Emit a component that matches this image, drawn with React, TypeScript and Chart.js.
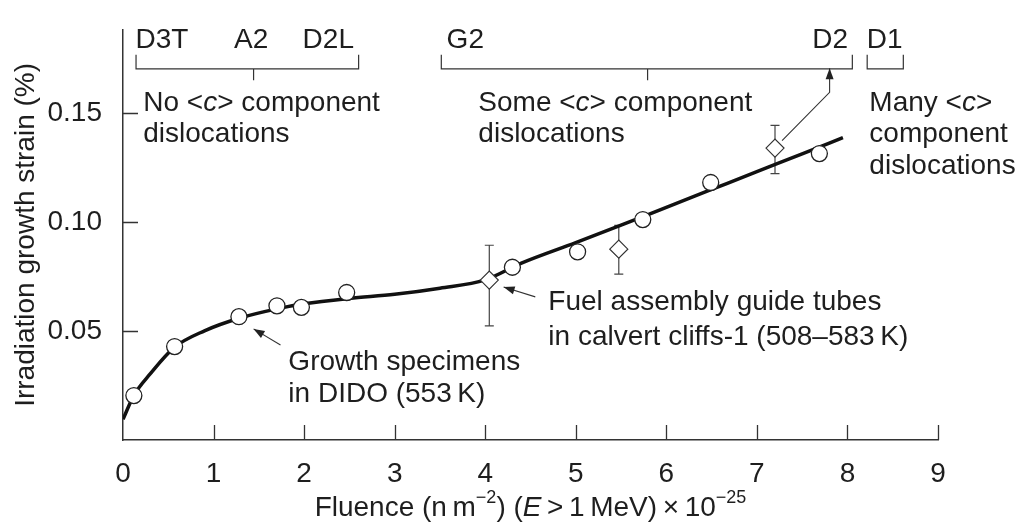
import React, { useEffect, useRef } from "react";
import { Chart, registerables } from "chart.js";

Chart.register(...registerables);

// ---------- data ----------
const xTicks = [0, 1, 2, 3, 4, 5, 6, 7, 8, 9];
const yTicks = [0.05, 0.1, 0.15];
const yTickLabels = ["0.05", "0.10", "0.15"];

// fitted growth curve
const curveX = [0, 0.12, 0.3, 0.57, 0.9, 1.3, 1.7, 2.0, 2.5, 3.0, 3.5, 4.0, 4.4, 5.0, 5.5, 6.0, 6.5, 7.0, 7.5, 7.95];
const curveY = [0.0095, 0.0205, 0.0303, 0.0426, 0.0501, 0.0561, 0.0602, 0.0625, 0.065, 0.0669, 0.0697, 0.0735, 0.0812, 0.0906, 0.0986, 0.1068, 0.115, 0.1232, 0.1313, 0.1388];

// growth specimens in DIDO (circles)
const circleX = [0.12, 0.57, 1.28, 1.7, 1.97, 2.47, 4.3, 5.02, 5.74, 6.49, 7.69];
const circleY = [0.0204, 0.0429, 0.0566, 0.0616, 0.0609, 0.0677, 0.0793, 0.0864, 0.1012, 0.1182, 0.1315];

// fuel assembly guide tubes (diamonds with error bars)
const diamondX = [4.045, 5.475, 7.2];
const diamondY = [0.0734, 0.0876, 0.134];
const diamondLow = [0.0524, 0.0761, 0.1223];
const diamondHigh = [0.0894, 0.0985, 0.1444];

const X_TITLE = "Fluence (n m−2) (E > 1 MeV) × 10−25";
const Y_TITLE = "Irradiation growth strain (%)";

// ---------- styles ----------
const FONT = "'Liberation Sans', Arial, Helvetica, sans-serif";
const SIZE = 28;
const SUP = 18;
const TEXT = "#1e1e1e";
const LINE = "#333";

type Part = { t: string; i?: boolean; sup?: boolean };

function drawRich(ctx: CanvasRenderingContext2D, parts: Part[], x: number, y: number, align: "left" | "center") {
  const fontFor = (p: Part) => `${p.i ? "italic " : ""}${p.sup ? SUP : SIZE}px ${FONT}`;
  let total = 0;
  const widths: number[] = [];
  for (const p of parts) {
    ctx.font = fontFor(p);
    const w = ctx.measureText(p.t).width;
    widths.push(w);
    total += w;
  }
  let cx = align === "center" ? x - total / 2 : x;
  const base = y + SIZE * 0.358;
  ctx.textAlign = "left";
  ctx.textBaseline = "alphabetic";
  ctx.fillStyle = TEXT;
  parts.forEach((p, k) => {
    ctx.font = fontFor(p);
    ctx.fillText(p.t, cx, p.sup ? base - SIZE * 0.45 : base);
    cx += widths[k];
  });
}

function arrowHead(ctx: CanvasRenderingContext2D, fx: number, fy: number, tx: number, ty: number) {
  const a = Math.atan2(ty - fy, tx - fx);
  const L = 11;
  const W = 4;
  ctx.beginPath();
  ctx.moveTo(tx, ty);
  ctx.lineTo(tx - L * Math.cos(a) + W * Math.sin(a), ty - L * Math.sin(a) - W * Math.cos(a));
  ctx.lineTo(tx - L * Math.cos(a) - W * Math.sin(a), ty - L * Math.sin(a) + W * Math.cos(a));
  ctx.closePath();
  ctx.fill();
}

const errorBarPlugin = {
  id: "errorBars",
  beforeDatasetsDraw(chart: any) {
    const { ctx } = chart;
    const xs = chart.scales.x;
    const ys = chart.scales.y;
    ctx.save();
    ctx.strokeStyle = "#444";
    ctx.lineWidth = 1.2;
    diamondX.forEach((xv, k) => {
      const px = xs.getPixelForValue(xv);
      const lo = ys.getPixelForValue(diamondLow[k]);
      const hi = ys.getPixelForValue(diamondHigh[k]);
      ctx.beginPath();
      ctx.moveTo(px, lo);
      ctx.lineTo(px, hi);
      ctx.moveTo(px - 4.5, lo);
      ctx.lineTo(px + 4.5, lo);
      ctx.moveTo(px - 4.5, hi);
      ctx.lineTo(px + 4.5, hi);
      ctx.stroke();
    });
    ctx.restore();
  },
};

const annotationPlugin = {
  id: "annotations",
  afterDraw(chart: any) {
    const { ctx, chartArea } = chart;
    const xs = chart.scales.x;
    const ys = chart.scales.y;
    const X = (v: number) => xs.getPixelForValue(v);
    const Y = (v: number) => ys.getPixelForValue(v);
    ctx.save();

    // inward tick marks
    ctx.strokeStyle = LINE;
    ctx.lineWidth = 1.3;
    ctx.beginPath();
    xTicks.forEach((v) => {
      if (v === 0) return;
      const px = Math.round(X(v)) + 0.5;
      ctx.moveTo(px, chartArea.bottom);
      ctx.lineTo(px, chartArea.bottom - 15);
    });
    yTicks.forEach((v) => {
      const py = Math.round(Y(v)) + 0.5;
      ctx.moveTo(chartArea.left, py);
      ctx.lineTo(chartArea.left + 15, py);
    });
    ctx.stroke();

    // brackets at the top
    const bTop = Y(0.1769);
    const bMid = Y(0.1704);
    const bStem = Y(0.1651);
    const bracket = (x0: number, x1: number, stem: number | null) => {
      ctx.beginPath();
      ctx.moveTo(X(x0), bTop);
      ctx.lineTo(X(x0), bMid);
      ctx.lineTo(X(x1), bMid);
      ctx.lineTo(X(x1), bTop);
      if (stem !== null) {
        ctx.moveTo(X(stem), bMid);
        ctx.lineTo(X(stem), bStem);
      }
      ctx.stroke();
    };
    ctx.lineWidth = 1.2;
    bracket(0.144, 2.602, 1.442);
    bracket(3.515, 8.054, 5.793);
    bracket(8.218, 8.617, null);

    // bracket labels
    const lblY = Y(0.1844);
    [
      ["D3T", 0.431],
      ["A2", 1.415],
      ["D2L", 2.267],
      ["G2", 3.78],
      ["D2", 7.81],
      ["D1", 8.41],
    ].forEach(([t, xv]) => drawRich(ctx, [{ t: t as string }], X(xv as number), lblY, "center"));

    // region texts
    const l1 = Y(0.1554);
    const l2 = Y(0.1414);
    const l3 = Y(0.1268);
    drawRich(ctx, [{ t: "No <" }, { t: "c", i: true }, { t: "> component" }], X(0.224), l1, "left");
    drawRich(ctx, [{ t: "dislocations" }], X(0.224), l2, "left");
    drawRich(ctx, [{ t: "Some <" }, { t: "c", i: true }, { t: "> component" }], X(3.924), l1, "left");
    drawRich(ctx, [{ t: "dislocations" }], X(3.924), l2, "left");
    drawRich(ctx, [{ t: "Many <" }, { t: "c", i: true }, { t: ">" }], X(8.242), l1, "left");
    drawRich(ctx, [{ t: "component" }], X(8.242), l2, "left");
    drawRich(ctx, [{ t: "dislocations" }], X(8.242), l3, "left");

    drawRich(ctx, [{ t: "Growth specimens" }], X(1.826), Y(0.0368), "left");
    drawRich(ctx, [{ t: "in DIDO (553\u2009K)" }], X(1.826), Y(0.0222), "left");
    drawRich(ctx, [{ t: "Fuel assembly guide tubes" }], X(4.697), Y(0.0643), "left");
    drawRich(ctx, [{ t: "in calvert cliffs-1 (508–583\u2009K)" }], X(4.697), Y(0.0483), "left");

    // arrows
    ctx.strokeStyle = "#333";
    ctx.fillStyle = "#222";
    ctx.lineWidth = 1.1;
    const arrow = (pts: number[][]) => {
      ctx.beginPath();
      pts.forEach(([xv, yv], k) => (k === 0 ? ctx.moveTo(X(xv), Y(yv)) : ctx.lineTo(X(xv), Y(yv))));
      ctx.stroke();
      const a = pts[pts.length - 2];
      const b = pts[pts.length - 1];
      arrowHead(ctx, X(a[0]), Y(a[1]), X(b[0]), Y(b[1]));
    };
    arrow([[1.739, 0.0436], [1.442, 0.051]]);
    arrow([[4.553, 0.0657], [4.203, 0.0702]]);
    arrow([[7.278, 0.1374], [7.803, 0.1596], [7.803, 0.1707]]);

    // x-axis title with superscripts
    drawRich(
      ctx,
      [
        { t: "Fluence (n\u2009m" },
        { t: "−2", sup: true },
        { t: ") (" },
        { t: "E", i: true },
        { t: "\u2009>\u20091\u2009MeV)\u2009×\u200910" },
        { t: "−25", sup: true },
      ],
      (chartArea.left + chartArea.right) / 2,
      506,
      "center"
    );
    ctx.restore();
  },
};

export default function App() {
  const ref = useRef<HTMLCanvasElement>(null);
  useEffect(() => {
    const canvas = ref.current!;
    const chart = new Chart(canvas, {
      type: "line",
      data: {
        datasets: [
          {
            type: "scatter",
            label: "Growth specimens in DIDO (553 K)",
            data: circleX.map((x, i) => ({ x, y: circleY[i] })),
            pointStyle: "circle",
            pointRadius: 8,
            pointBackgroundColor: "#fff",
            pointBorderColor: "#222",
            pointBorderWidth: 1.3,
            showLine: false,
            order: 1,
          } as any,
          {
            type: "scatter",
            label: "Fuel assembly guide tubes",
            data: diamondX.map((x, i) => ({ x, y: diamondY[i] })),
            pointStyle: "rectRot",
            pointRadius: 9,
            pointBackgroundColor: "#fff",
            pointBorderColor: "#333",
            pointBorderWidth: 1.2,
            showLine: false,
            order: 1,
          } as any,
          {
            type: "line",
            label: "fit",
            data: curveX.map((x, i) => ({ x, y: curveY[i] })),
            borderColor: "#111",
            borderWidth: 3.5,
            pointRadius: 0,
            cubicInterpolationMode: "monotone",
            fill: false,
            order: 3,
          } as any,
        ],
      },
      options: {
        animation: false,
        responsive: false,
        devicePixelRatio: 1,
        layout: { padding: { top: 15, right: 88, bottom: 0, left: 0 } },
        plugins: { legend: { display: false }, tooltip: { enabled: false } },
        scales: {
          x: {
            type: "linear",
            min: 0,
            max: 9,
            afterBuildTicks: (s: any) => {
              s.ticks = xTicks.map((v) => ({ value: v }));
            },
            afterFit: (s: any) => {
              s.height = 82;
            },
            ticks: {
              font: { family: FONT, size: SIZE },
              color: TEXT,
              padding: 9,
              maxRotation: 0,
              callback: (v: any) => String(v),
            },
            grid: { display: false },
            border: { display: true, color: LINE, width: 1.5 },
          },
          y: {
            type: "linear",
            min: 0,
            max: 0.1883,
            afterBuildTicks: (s: any) => {
              s.ticks = yTicks.map((v) => ({ value: v }));
            },
            afterFit: (s: any) => {
              s.width = 123;
            },
            ticks: {
              font: { family: FONT, size: SIZE },
              color: TEXT,
              padding: 13,
              callback: (_v: any, i: number) => yTickLabels[i],
            },
            title: {
              display: true,
              text: Y_TITLE,
              font: { family: FONT, size: SIZE },
              color: TEXT,
              padding: { top: 9, bottom: 0 },
            },
            grid: { display: false },
            border: { display: true, color: LINE, width: 1.5 },
          },
        },
      } as any,
      plugins: [errorBarPlugin, annotationPlugin],
    });
    return () => chart.destroy();
  }, []);
  return (
    <div style={{ position: "fixed", left: 0, top: 0, width: 1026, height: 522, background: "#fff" }}>
      <canvas ref={ref} width={1026} height={522} style={{ width: 1026, height: 522, display: "block" }} aria-label={X_TITLE} />
    </div>
  );
}
